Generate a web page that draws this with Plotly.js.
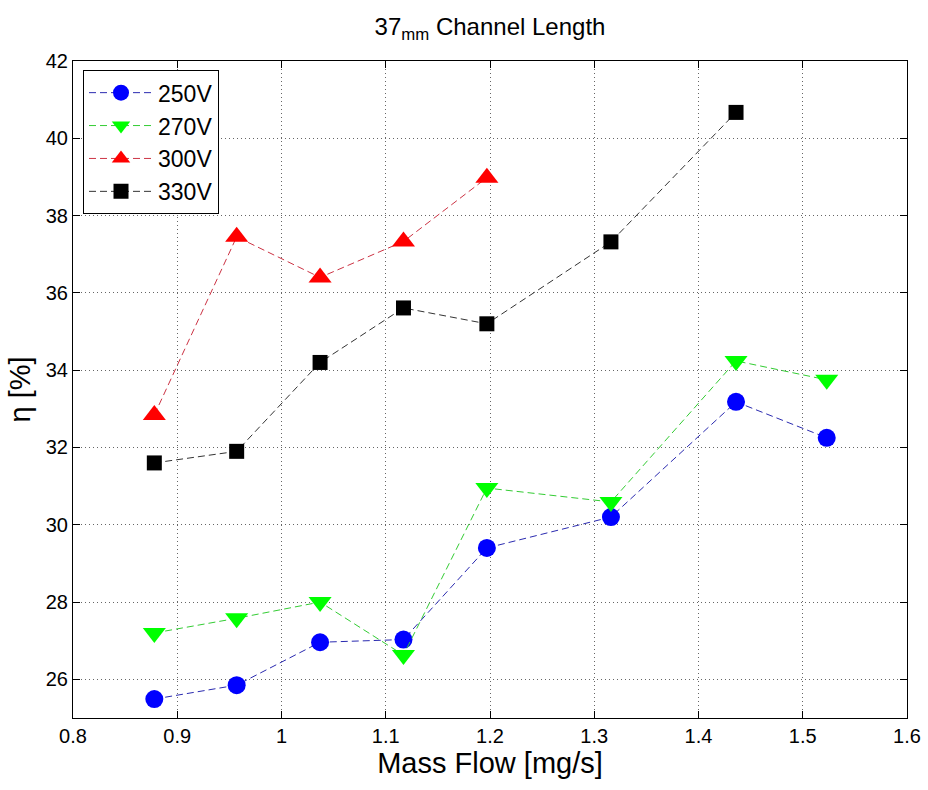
<!DOCTYPE html>
<html>
<head>
<meta charset="utf-8">
<script src="https://cdn.plot.ly/plotly-3.0.1.min.js"></script>
<style>html,body{margin:0;padding:0;background:#fff;}#chart{width:928px;height:790px;}</style>
</head>
<body>
<div id="chart"></div>
<script>
// Data
const massFlow = [0.878, 0.957, 1.037, 1.117, 1.197, 1.316, 1.436, 1.523];
const eta250 = [25.49, 25.85, 26.96, 27.03, 29.40, 30.20, 33.18, 32.25];
const eta270 = [27.20, 27.58, 28.00, 26.63, 30.95, 30.59, 34.24, 33.75];
const massFlow300 = [0.878, 0.957, 1.037, 1.117, 1.197];
const eta300 = [32.84, 37.45, 36.40, 37.33, 38.98];
const massFlow330 = [0.878, 0.957, 1.037, 1.117, 1.197, 1.316, 1.436];
const eta330 = [31.60, 31.90, 34.20, 35.61, 35.20, 37.32, 40.67];
const seriesNames = ['250V', '270V', '300V', '330V'];
const xTicks = [0.8, 0.9, 1, 1.1, 1.2, 1.3, 1.4, 1.5, 1.6];
const yTicks = [26, 28, 30, 32, 34, 36, 38, 40, 42];

const FONT = 'Arial, "Liberation Sans", Helvetica, sans-serif';

function mk(x, y, name, color, lineColor, symbol, size) {
  return {
    x: x, y: y, name: name, type: 'scatter', mode: 'lines+markers',
    line: {color: lineColor, width: 1, dash: '7px,4px'},
    marker: {color: color, symbol: symbol, size: size, line: {width: 0}}
  };
}

const traces = [
  mk(massFlow, eta250, seriesNames[0], '#0000ff', '#2a2ab0', 'circle', 18),
  mk(massFlow, eta270, seriesNames[1], '#00ff00', '#33cc33', 'triangle-down', 20),
  mk(massFlow300, eta300, seriesNames[2], '#ff0000', '#cc3344', 'triangle-up', 20),
  mk(massFlow330, eta330, seriesNames[3], '#000000', '#333333', 'square', 15)
];

const axisCommon = {
  showline: true, linecolor: '#000', linewidth: 1, mirror: 'ticks',
  ticks: 'inside', ticklen: 7, tickcolor: '#000', tickwidth: 1,
  showgrid: true, gridcolor: '#666', gridwidth: 1, griddash: '1px,3px',
  zeroline: false, tickfont: {family: FONT, size: 20, color: '#000'}
};

const layout = {
  width: 928, height: 790,
  paper_bgcolor: '#fff', plot_bgcolor: '#fff',
  margin: {l: 73, r: 21, t: 61, b: 72},
  font: {family: FONT, color: '#000'},
  title: {
    text: '37<sub>mm</sub> Channel Length',
    font: {family: FONT, size: 24, color: '#000'},
    x: 0.5, xref: 'paper', xanchor: 'center',
    y: 0.966, yref: 'container', yanchor: 'middle'
  },
  xaxis: Object.assign({}, axisCommon, {
    range: [0.8, 1.6], tickmode: 'array', tickvals: xTicks,
    ticktext: xTicks.map(v => String(v)),
    title: {text: 'Mass Flow [mg/s]', font: {family: FONT, size: 29, color: '#000'}, standoff: 4}
  }),
  yaxis: Object.assign({}, axisCommon, {
    range: [25, 42], tickmode: 'array', tickvals: yTicks,
    ticktext: yTicks.map(v => String(v)),
    title: {text: 'η [%]', font: {family: FONT, size: 29, color: '#000'}, standoff: 6}
  }),
  legend: {
    x: 0.012, y: 0.986, xanchor: 'left', yanchor: 'top',
    bgcolor: '#fff', bordercolor: '#000', borderwidth: 1,
    font: {family: FONT, size: 23, color: '#000'},
    itemwidth: 64, tracegroupgap: 0
  },
  showlegend: true
};

Plotly.newPlot('chart', traces, layout, {displayModeBar: false, staticPlot: true});
</script>
</body>
</html>
